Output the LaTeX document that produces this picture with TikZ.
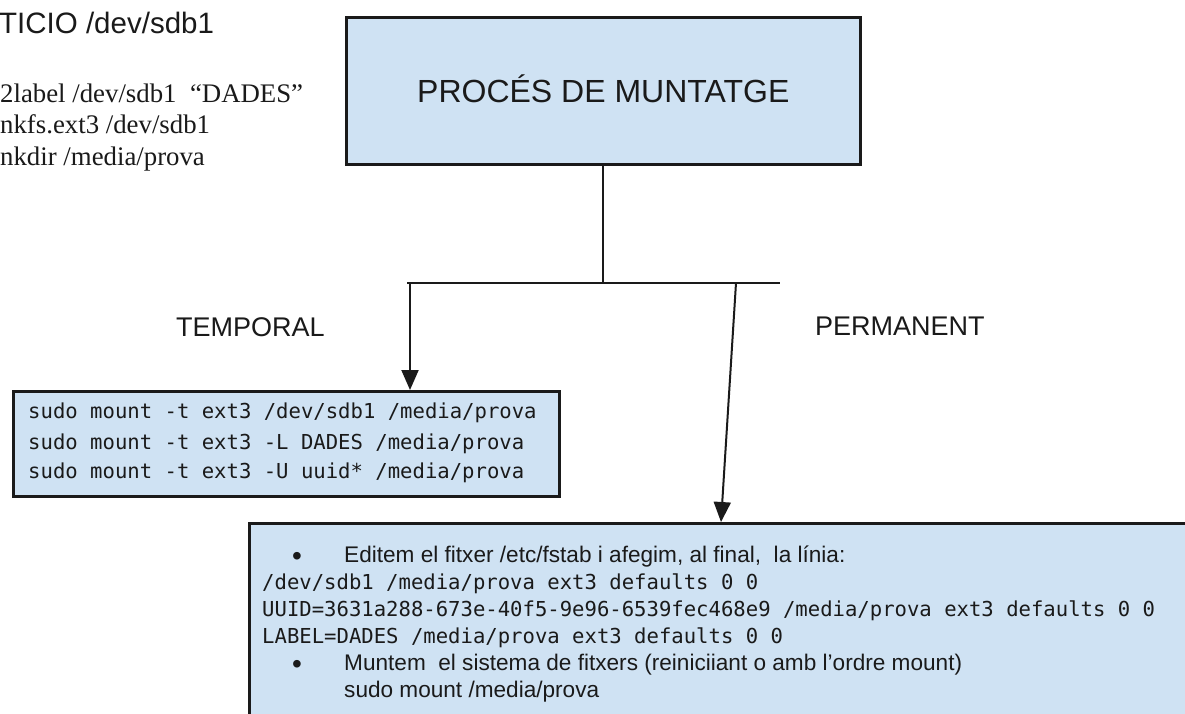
\documentclass[tikz,border=0pt]{standalone}
\usepackage{fontspec}
\setmainfont{Liberation Sans}
\newfontfamily\serifA{Liberation Serif}
\newfontfamily\monoA{DejaVu Sans Mono}
\usetikzlibrary{arrows.meta}
\definecolor{boxblue}{HTML}{CFE2F3}
\definecolor{ink}{HTML}{1A1A1A}
\begin{document}
\begin{tikzpicture}[x=1pt,y=-1pt,
  blockbox/.style={draw=ink, line width=2.5pt, fill=boxblue, inner sep=0pt},
  txt/.style={inner sep=0pt, anchor=base west, text=ink},
  sanstxt/.style={txt, font=\fontsize{22.6}{27}\selectfont},
  bullettxt/.style={txt, font=\fontsize{28}{30}\selectfont},
  monotxt/.style={txt, font=\monoA\fontsize{20.6}{27}\selectfont},
  conn/.style={line width=2pt, draw=ink},
  arr/.style={conn, -{Triangle[width=17pt,length=20pt]}},
]
\useasboundingbox (0,0) rectangle (1185,713);
\clip (0,0) rectangle (1185,713);
\fill[white] (0,0) rectangle (1185,713);

% top-left commands (partly cut off)
\node[txt, font=\fontsize{29.5}{35}\selectfont] (part) at (-1,33) {TICIO /dev/sdb1};
\node[txt, font=\serifA\fontsize{26.8}{31}\selectfont] (c1) at (0,102) {2label /dev/sdb1\ \ “DADES”};
\node[txt, font=\serifA\fontsize{26.8}{31}\selectfont] (c2) at (0,133) {nkfs.ext3 /dev/sdb1};
\node[txt, font=\serifA\fontsize{26.8}{31}\selectfont] (c3) at (0,165) {nkdir /media/prova};

% main box
\node[blockbox, anchor=north west, minimum width=514pt, minimum height=147pt,
      font=\fontsize{32}{38}\selectfont, text=ink, text height=23pt, text depth=0pt]
      (main) at (345,16) {PROCÉS DE MUNTATGE};

% labels
\node[txt, font=\fontsize{27}{32}\selectfont] (ltemp) at (176,336) {TEMPORAL};
\node[txt, font=\fontsize{27}{32}\selectfont] (lperm) at (815,335) {PERMANENT};

% boxes
\node[blockbox, anchor=north west, minimum width=546pt, minimum height=105pt] (temp) at (12,390) {};
\node[blockbox, anchor=north west, minimum width=960pt, minimum height=215pt] (perm) at (248,522) {};

% connectors
\coordinate (barL) at (407,283);
\coordinate (barR) at (780,283);
\coordinate (tl) at (410,283);
\coordinate (tr) at (736,283);
\coordinate (pin) at (721,522);
\draw[conn] (main.south) -- (main.south |- barL);
\draw[conn] (barL) -- (barR);
\draw[arr] (tl) -- (tl |- temp.north);
\draw[arr] (tr) -- (pin);

% temporal text
\node[monotxt] (t1) at (28,418) {sudo mount -t ext3 /dev/sdb1 /media/prova};
\node[monotxt] (t2) at (28,449) {sudo mount -t ext3 -L DADES /media/prova};
\node[monotxt] (t3) at (28,478) {sudo mount -t ext3 -U uuid* /media/prova};

% permanent text
\node[bullettxt] (b1) at (292,565) {•};
\node[sanstxt] (p1) at (344,562) {Editem el fitxer /etc/fstab i afegim, al final,\ \ la línia:};
\node[monotxt] (p2) at (262,589) {/dev/sdb1 /media/prova ext3 defaults 0 0};
\node[monotxt] (p3) at (262,616) {UUID=3631a288-673e-40f5-9e96-6539fec468e9 /media/prova ext3 defaults 0 0};
\node[monotxt] (p4) at (262,643) {LABEL=DADES /media/prova ext3 defaults 0 0};
\node[bullettxt] (b2) at (292,673) {•};
\node[sanstxt] (p5) at (344,670) {Muntem\ \ el sistema de fitxers (reiniciiant o amb l’ordre mount)};
\node[sanstxt] (p6) at (344,697) {sudo mount /media/prova};
\end{tikzpicture}
\end{document}
